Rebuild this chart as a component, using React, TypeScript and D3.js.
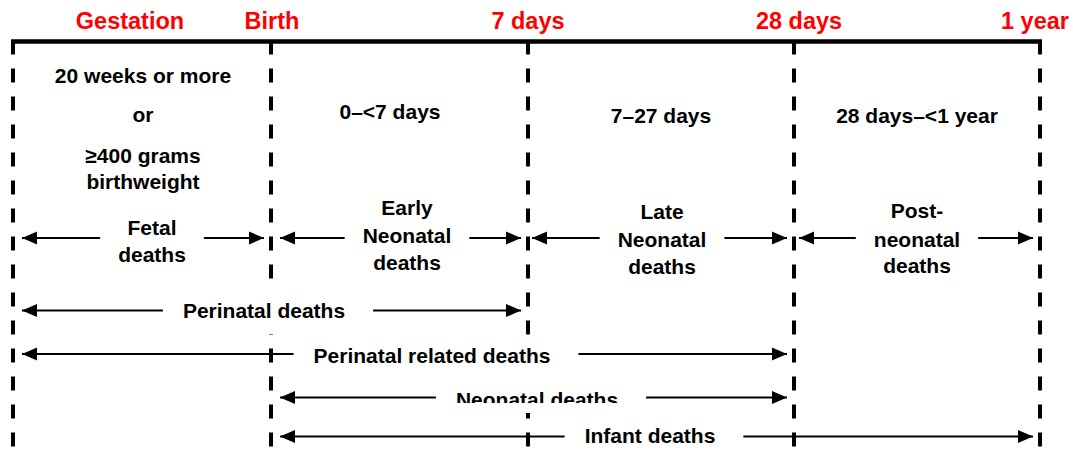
import * as d3 from 'd3';
import { useEffect, useRef } from 'react';

const W = 1073;
const H = 459;

// timeline milestones (red labels across the top)
const milestones = ['Gestation', 'Birth', '7 days', '28 days', '1 year'];

// age range text for each period between milestones
const periodRanges = [
  ['20 weeks or more', 'or', '≥400 grams', 'birthweight'],
  ['0–<7 days'],
  ['7–27 days'],
  ['28 days–<1 year'],
];

// death category inside each period
const deathGroups = [
  ['Fetal', 'deaths'],
  ['Early', 'Neonatal', 'deaths'],
  ['Late', 'Neonatal', 'deaths'],
  ['Post-', 'neonatal', 'deaths'],
];

// combined categories spanning several periods
const spanLabels = ['Perinatal deaths', 'Perinatal related deaths', 'Neonatal deaths', 'Infant deaths'];
const spanFrom = [0, 0, 1, 1];
const spanTo = [2, 3, 3, 4];

// layout
const boundaryX = [13, 271, 528, 794, 1040];
const milestoneShift = [117, 1, 0, 5, -5];
const leftInset = [9, 9, 4, 5, 0];
const rightInset = 7;
const periodX = [143, 390, 661, 917];
const periodBase = [[83, 122, 163, 189], [119], [123], [123]];
const groupX = [152, 407, 662, 917];
const groupBase = [[235, 262], [215, 243, 270], [219, 247, 274], [218, 247, 273]];
const groupArrowY = 238;
const spanY = [310.5, 354, 397.5, 436.5];
const spanTextX = [264, 432, 537, 650];
const spanTextY = [318, 363, 407, 443];
const spanBg = [[290, 334], [335, 379], [379, 413], null];

const FONT = '"Liberation Sans", Arial, sans-serif';

const App = () => {
  const ref = useRef(null);

  useEffect(() => {
    const svg = d3.select(ref.current);
    svg.selectAll('*').remove();

    const x = d3.scaleLinear().domain(d3.range(milestones.length)).range(boundaryX);
    const top = 41.5;
    const bottom = 447;

    const gLines = svg.append('g');
    const gArrows = svg.append('g');
    const gBg = svg.append('g');
    const gText = svg.append('g').attr('font-family', FONT).attr('font-weight', 'bold');

    // top timeline
    gLines
      .append('line')
      .attr('x1', x(0) - 2)
      .attr('x2', x(milestones.length - 1) + 2)
      .attr('y1', top)
      .attr('y2', top)
      .attr('stroke', '#000')
      .attr('stroke-width', 4.5);

    gLines
      .selectAll('line.v')
      .data(milestones)
      .join('line')
      .attr('class', 'v')
      .attr('x1', (d, i) => x(i))
      .attr('x2', (d, i) => x(i))
      .attr('y1', top - 1)
      .attr('y2', bottom)
      .attr('stroke', '#000')
      .attr('stroke-width', 4)
      .attr('stroke-dasharray', '14 14');

    // milestone labels
    gText
      .selectAll('text.m')
      .data(milestones)
      .join('text')
      .attr('class', 'm')
      .attr('x', (d, i) => x(i) + milestoneShift[i])
      .attr('y', 29)
      .attr('text-anchor', 'middle')
      .attr('font-size', 23.5)
      .attr('fill', '#ff0000')
      .text((d) => d);

    // period ranges
    periodRanges.forEach((lines, i) => {
      lines.forEach((t, j) => {
        gText
          .append('text')
          .attr('x', periodX[i])
          .attr('y', periodBase[i][j])
          .attr('text-anchor', 'middle')
          .attr('font-size', 21)
          .attr('fill', '#000')
          .text(t);
      });
    });

    const arrow = (x1, x2, y, head1, head2) => {
      gArrows
        .append('line')
        .attr('x1', x1)
        .attr('x2', x2)
        .attr('y1', y)
        .attr('y2', y)
        .attr('stroke', '#000')
        .attr('stroke-width', 2.2);
      const hl = 15;
      const hw = 6.5;
      if (head1) {
        gArrows
          .append('path')
          .attr('d', `M${x1},${y}L${x1 + hl},${y - hw}L${x1 + hl},${y + hw}Z`)
          .attr('fill', '#000');
      }
      if (head2) {
        gArrows
          .append('path')
          .attr('d', `M${x2},${y}L${x2 - hl},${y - hw}L${x2 - hl},${y + hw}Z`)
          .attr('fill', '#000');
      }
    };

    // death categories per period
    deathGroups.forEach((lines, i) => {
      let maxW = 0;
      lines.forEach((t, j) => {
        const node = gText
          .append('text')
          .attr('x', groupX[i])
          .attr('y', groupBase[i][j])
          .attr('text-anchor', 'middle')
          .attr('font-size', 21)
          .attr('fill', '#000')
          .text(t)
          .node();
        maxW = Math.max(maxW, node.getComputedTextLength());
      });
      const l = x(i) + leftInset[i];
      const r = x(i + 1) - rightInset;
      arrow(l, groupX[i] - maxW / 2 - 18, groupArrowY, true, false);
      arrow(groupX[i] + maxW / 2 + 18, r, groupArrowY, false, true);
    });

    // spanning categories
    spanLabels.forEach((t, i) => {
      const node = gText
        .append('text')
        .attr('x', spanTextX[i])
        .attr('y', spanTextY[i])
        .attr('text-anchor', 'middle')
        .attr('font-size', 21)
        .attr('fill', '#000')
        .text(t)
        .node();
      const w = node.getComputedTextLength();
      const l = x(spanFrom[i]) + leftInset[spanFrom[i]];
      const r = x(spanTo[i]) - rightInset;
      arrow(l, spanTextX[i] - w / 2 - 20, spanY[i], true, false);
      arrow(spanTextX[i] + w / 2 + 28, r, spanY[i], false, true);
      if (spanBg[i]) {
        gBg
          .append('rect')
          .attr('x', spanTextX[i] - w / 2 - 3)
          .attr('width', w + 6)
          .attr('y', spanBg[i][0])
          .attr('height', spanBg[i][1] - spanBg[i][0])
          .attr('fill', '#fff');
      }
    });

    // the neonatal label is cut off at the bottom in the original
    const nw = 170;
    svg
      .append('rect')
      .attr('x', spanTextX[2] - nw / 2)
      .attr('width', nw)
      .attr('y', 403)
      .attr('height', 10)
      .attr('fill', '#fff');
  }, []);

  return (
    <svg
      ref={ref}
      width={W}
      height={H}
      viewBox={`0 0 ${W} ${H}`}
      style={{ position: 'absolute', left: 0, top: 0, background: '#fff' }}
    />
  );
};

export default App;
